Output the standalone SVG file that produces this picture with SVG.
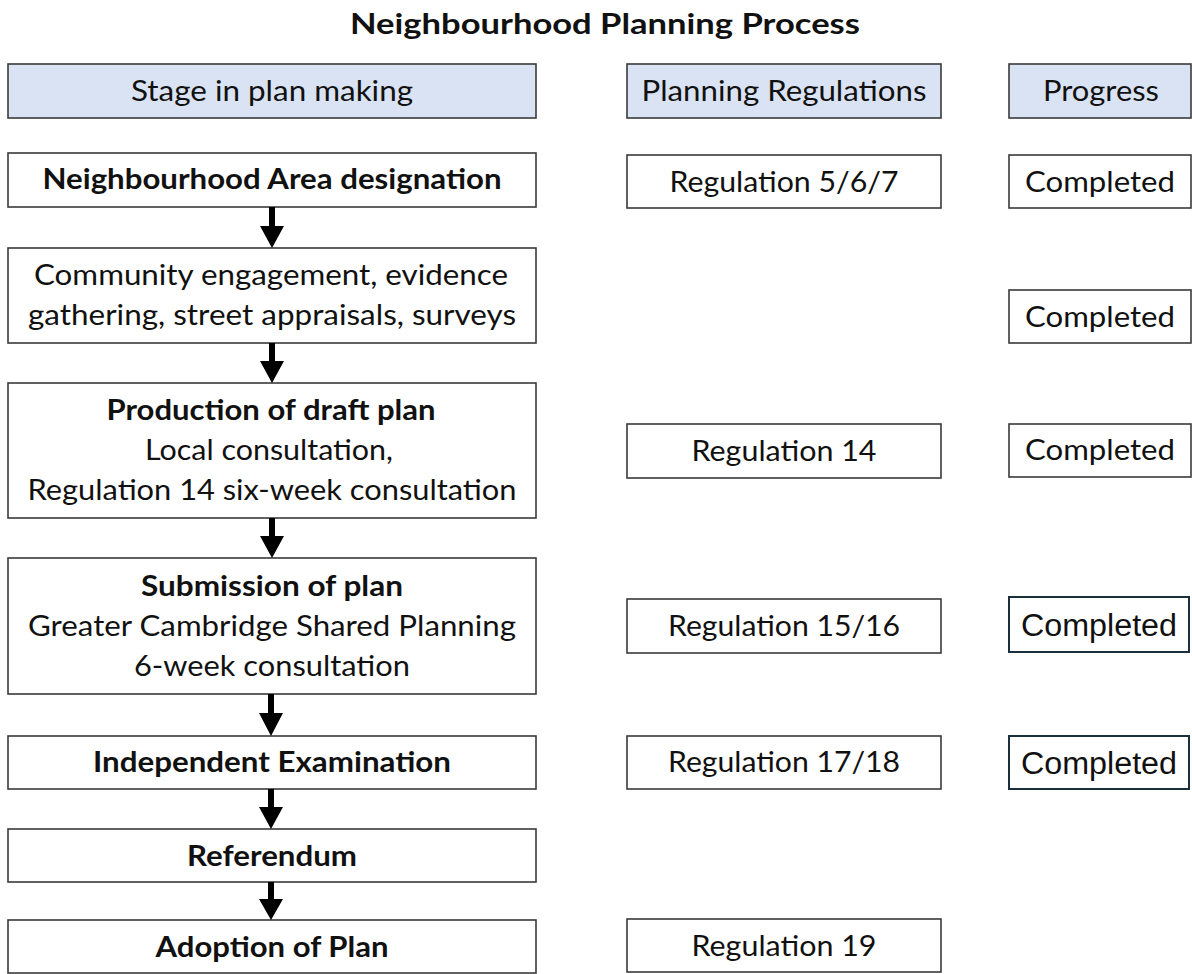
<svg xmlns="http://www.w3.org/2000/svg" width="1192" height="974" viewBox="0 0 1192 974">
<style>
.box{fill:#ffffff;stroke:#3a3a3a;stroke-width:1.6}
.hdr{fill:#dae3f3;stroke:#3a3a3a;stroke-width:1.6}
.dark{fill:#ffffff;stroke:#1c2f3c;stroke-width:2}
text{font-family:Lato,"Open Sans",sans-serif;font-size:28px;fill:#111;text-anchor:middle}
.b{font-weight:bold}
.ar{font-family:"Liberation Sans",Arial,sans-serif;font-size:31px}
.arrow{fill:#000}
</style>
<rect width="1192" height="974" fill="#ffffff"/>
<text x="605" y="34" class="b" textLength="510" lengthAdjust="spacingAndGlyphs">Neighbourhood Planning Process</text>

<g id="hdr-stage"><rect class="hdr" x="8" y="64" width="528" height="54"/><text x="272" y="101" textLength="282" lengthAdjust="spacingAndGlyphs">Stage in plan making</text></g>
<g id="hdr-reg"><rect class="hdr" x="627" y="64" width="314" height="54"/><text x="784" y="101" textLength="285" lengthAdjust="spacingAndGlyphs">Planning Regulations</text></g>
<g id="hdr-prog"><rect class="hdr" x="1009" y="64" width="182" height="54"/><text x="1101" y="101" textLength="116" lengthAdjust="spacingAndGlyphs">Progress</text></g>

<g id="s1"><rect class="box" x="8" y="153" width="528" height="54"/><text x="272" y="189" class="b" textLength="459" lengthAdjust="spacingAndGlyphs">Neighbourhood Area designation</text></g>
<g id="r1"><rect class="box" x="627" y="155" width="314" height="53"/><text x="784" y="192" textLength="229" lengthAdjust="spacingAndGlyphs">Regulation 5/6/7</text></g>
<g id="p1"><rect class="box" x="1009" y="155" width="182" height="53"/><text x="1100" y="192" textLength="150" lengthAdjust="spacingAndGlyphs">Completed</text></g>

<g id="s2"><rect class="box" x="8" y="248" width="528" height="95"/><text x="271" y="285" textLength="474" lengthAdjust="spacingAndGlyphs">Community engagement, evidence</text><text x="272" y="325" textLength="488" lengthAdjust="spacingAndGlyphs">gathering, street appraisals, surveys</text></g>
<g id="p2"><rect class="box" x="1009" y="290" width="182" height="53"/><text x="1100" y="327" textLength="150" lengthAdjust="spacingAndGlyphs">Completed</text></g>

<g id="s3"><rect class="box" x="8" y="383" width="528" height="135"/><text x="271" y="420" class="b" textLength="329" lengthAdjust="spacingAndGlyphs">Production of draft plan</text><text x="269" y="460" textLength="248" lengthAdjust="spacingAndGlyphs">Local consultation,</text><text x="272" y="500" textLength="489" lengthAdjust="spacingAndGlyphs">Regulation 14 six-week consultation</text></g>
<g id="r3"><rect class="box" x="627" y="424" width="314" height="54"/><text x="784" y="461" textLength="185" lengthAdjust="spacingAndGlyphs">Regulation 14</text></g>
<g id="p3"><rect class="box" x="1009" y="424" width="182" height="53"/><text x="1100" y="460" textLength="150" lengthAdjust="spacingAndGlyphs">Completed</text></g>

<g id="s4"><rect class="box" x="8" y="558" width="528" height="136"/><text x="272" y="596" class="b" textLength="262" lengthAdjust="spacingAndGlyphs">Submission of plan</text><text x="272" y="636" textLength="488" lengthAdjust="spacingAndGlyphs">Greater Cambridge Shared Planning</text><text x="272" y="676" textLength="276" lengthAdjust="spacingAndGlyphs">6-week consultation</text></g>
<g id="r4"><rect class="box" x="627" y="599" width="314" height="54"/><text x="784" y="636" textLength="232" lengthAdjust="spacingAndGlyphs">Regulation 15/16</text></g>
<g id="p4"><rect class="dark" x="1009" y="597" width="180" height="55"/><text x="1099" y="636" class="ar" textLength="156" lengthAdjust="spacingAndGlyphs">Completed</text></g>

<g id="s5"><rect class="box" x="8" y="736" width="528" height="53"/><text x="272" y="772" class="b" textLength="358" lengthAdjust="spacingAndGlyphs">Independent Examination</text></g>
<g id="r5"><rect class="box" x="627" y="736" width="314" height="53"/><text x="784" y="772" textLength="232" lengthAdjust="spacingAndGlyphs">Regulation 17/18</text></g>
<g id="p5"><rect class="dark" x="1009" y="736" width="180" height="53"/><text x="1099" y="774" class="ar" textLength="156" lengthAdjust="spacingAndGlyphs">Completed</text></g>

<g id="s6"><rect class="box" x="8" y="829" width="528" height="53"/><text x="272" y="866" class="b" textLength="170" lengthAdjust="spacingAndGlyphs">Referendum</text></g>

<g id="s7"><rect class="box" x="8" y="920" width="528" height="53"/><text x="272" y="957" class="b" textLength="233" lengthAdjust="spacingAndGlyphs">Adoption of Plan</text></g>
<g id="r7"><rect class="box" x="627" y="919" width="314" height="53"/><text x="784" y="956" textLength="185" lengthAdjust="spacingAndGlyphs">Regulation 19</text></g>

<g id="connectors" class="arrow">
<path d="M269 207 H275 V226 H284 L272 248 L260 226 H269 Z"/>
<path d="M269 343 H275 V361 H284 L272 383 L260 361 H269 Z"/>
<path d="M269 518 H275 V536 H284 L272 558 L260 536 H269 Z"/>
<path d="M268 694 H274 V713 H283 L271 736 L259 713 H268 Z"/>
<path d="M268 789 H274 V807 H283 L271 829 L259 807 H268 Z"/>
<path d="M268 882 H274 V899 H283 L271 920 L259 899 H268 Z"/>
</g>
</svg>
